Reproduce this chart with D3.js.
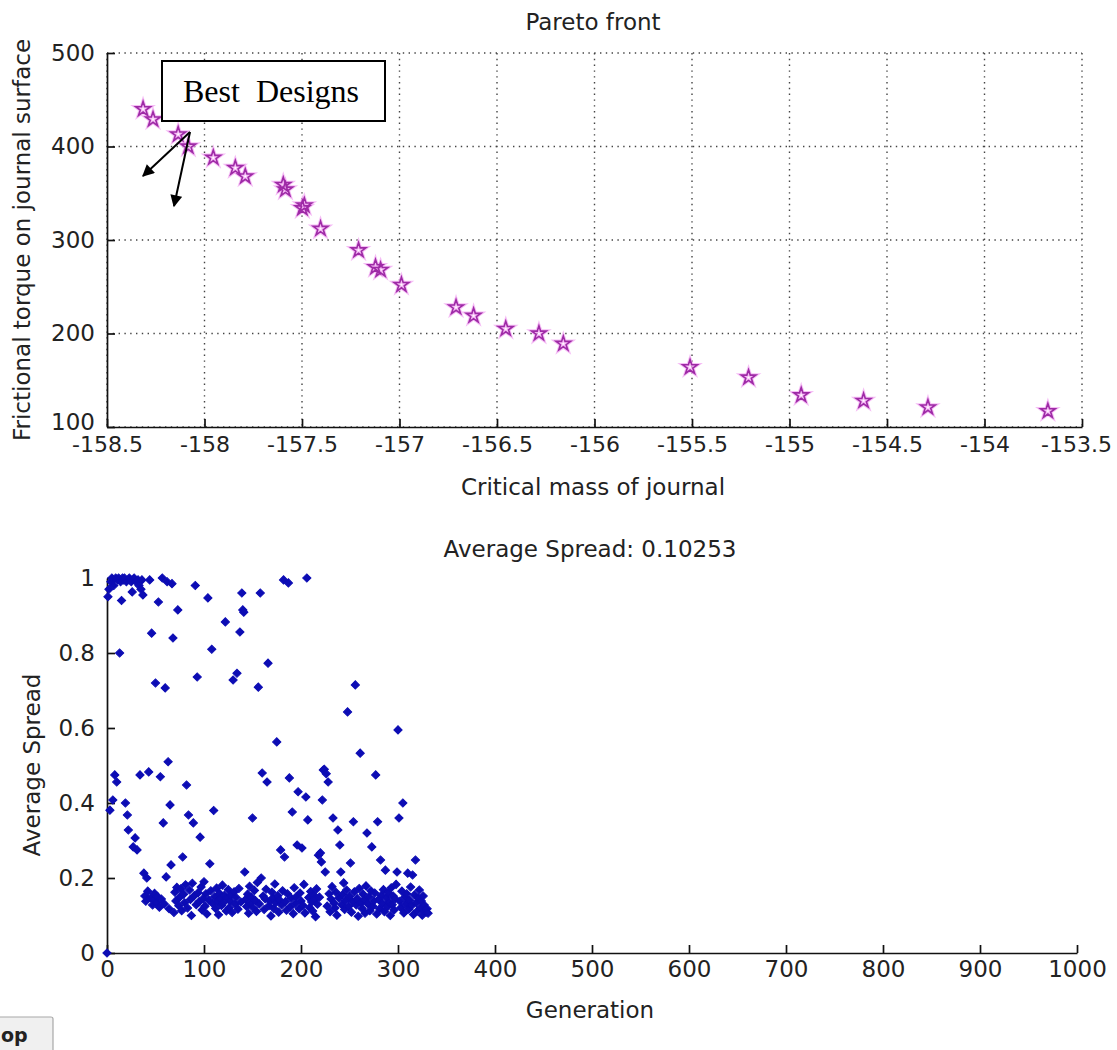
<!DOCTYPE html>
<html>
<head>
<meta charset="utf-8">
<script src="https://cdn.jsdelivr.net/npm/d3@7"></script>
<style>
  html, body { margin: 0; padding: 0; background: #fff; }
  svg { display: block; }
</style>
</head>
<body>
<svg id="chart" width="1117" height="1050"></svg>
<script>
// ---------- Data ----------
const paretoMass = [-158.315, -158.264, -158.135, -158.083, -157.955, -157.842, -157.791,
  -157.596, -157.585, -157.498, -157.488, -157.405, -157.21, -157.123, -157.097, -156.99,
  -156.71, -156.62, -156.455, -156.285, -156.16, -155.51, -155.21, -154.94, -154.62,
  -154.29, -153.675];
const paretoTorque = [440, 429, 413, 400, 388, 377, 368, 359, 354, 334, 337, 312, 289, 271,
  268, 252, 228, 219, 205, 200, 189, 164, 153, 134, 128, 121, 117];

const paretoXTicks = [-158.5, -158, -157.5, -157, -156.5, -156, -155.5, -155, -154.5, -154, -153.5];
const paretoYTicks = [100, 200, 300, 400, 500];

// average spread per generation (generation = index)
const spread = [
  0, 0.95, 0.97, 0.381, 0.99, 1.0, 0.408, 0.98, 0.475, 1.0,
  0.456, 0.995, 1.0, 0.80, 0.99, 0.94, 1.0, 0.995, 1.0, 0.40,
  0.99, 0.368, 0.328, 1.0, 0.995, 0.99, 0.963, 0.283, 1.0, 0.307,
  0.99, 0.275, 0.995, 0.98, 0.475, 0.97, 0.995, 0.955, 0.213, 0.152,
  0.138, 0.20, 0.165, 0.483, 0.995, 0.147, 0.853, 0.128, 0.142, 0.159,
  0.72, 0.135, 0.151, 0.936, 0.122, 0.47, 0.144, 1.0, 0.347, 0.131,
  0.707, 0.203, 0.99, 0.51, 0.118, 0.395, 0.235, 0.985, 0.84, 0.108,
  0.162, 0.139, 0.175, 0.915, 0.126, 0.149, 0.171, 0.113, 0.256, 0.157,
  0.134, 0.182, 0.448, 0.12, 0.368, 0.168, 0.143, 0.1, 0.186, 0.347,
  0.153, 0.98, 0.129, 0.736, 0.161, 0.137, 0.309, 0.176, 0.115, 0.145,
  0.19, 0.125, 0.158, 0.104, 0.947, 0.141, 0.238, 0.166, 0.81, 0.132,
  0.38, 0.15, 0.119, 0.173, 0.137, 0.102, 0.159, 0.144, 0.127, 0.181,
  0.134, 0.154, 0.883, 0.112, 0.146, 0.169, 0.121, 0.139, 0.155, 0.108,
  0.728, 0.163, 0.13, 0.148, 0.746, 0.117, 0.172, 0.856, 0.136, 0.96,
  0.915, 0.909, 0.216, 0.143, 0.124, 0.157, 0.106, 0.178, 0.133, 0.149,
  0.36, 0.12, 0.167, 0.14, 0.111, 0.188, 0.709, 0.131, 0.96, 0.2,
  0.48, 0.152, 0.116, 0.145, 0.17, 0.456, 0.773, 0.126, 0.138, 0.099,
  0.162, 0.147, 0.119, 0.184, 0.135, 0.563, 0.153, 0.109, 0.141, 0.275,
  0.128, 0.166, 0.995, 0.256, 0.137, 0.114, 0.158, 0.987, 0.467, 0.123,
  0.146, 0.376, 0.105, 0.174, 0.132, 0.15, 0.288, 0.43, 0.118, 0.16,
  0.139, 0.28, 0.127, 0.183, 0.107, 0.416, 1.0, 0.355, 0.148, 0.121,
  0.164, 0.136, 0.112, 0.155, 0.143, 0.097, 0.171, 0.13, 0.261, 0.149,
  0.267, 0.243, 0.408, 0.488, 0.49, 0.216, 0.478, 0.125, 0.456, 0.158,
  0.11, 0.144, 0.177, 0.36, 0.133, 0.12, 0.162, 0.101, 0.328, 0.147,
  0.288, 0.216, 0.129, 0.156, 0.187, 0.116, 0.14, 0.168, 0.643, 0.124,
  0.151, 0.24, 0.109, 0.137, 0.35, 0.163, 0.715, 0.128, 0.145, 0.098,
  0.172, 0.533, 0.134, 0.119, 0.157, 0.142, 0.106, 0.179, 0.32, 0.131,
  0.15, 0.113, 0.166, 0.283, 0.125, 0.139, 0.16, 0.475, 0.104, 0.35,
  0.143, 0.118, 0.248, 0.154, 0.132, 0.169, 0.11, 0.221, 0.147, 0.123,
  0.161, 0.136, 0.1, 0.174, 0.129, 0.152, 0.115, 0.145, 0.183, 0.216,
  0.595, 0.36, 0.138, 0.121, 0.165, 0.40, 0.107, 0.149, 0.13, 0.158,
  0.213, 0.117, 0.141, 0.176, 0.126, 0.208, 0.103, 0.155, 0.248, 0.134,
  0.112, 0.147, 0.168, 0.12, 0.139, 0.101, 0.152, 0.128, 0.115, 0.109,
  0.118, 0.106
];
const spreadXTicks = [0, 100, 200, 300, 400, 500, 600, 700, 800, 900, 1000];
const spreadYTicks = [0, 0.2, 0.4, 0.6, 0.8, 1];
const spreadYLabels = ["0", "0.2", "0.4", "0.6", "0.8", "1"];

// ---------- Drawing ----------
const svg = d3.select("#chart");
svg.append("rect").attr("width", 1117).attr("height", 1050).attr("fill", "#fff");

const FS = 23;
const SANS = "DejaVu Sans, sans-serif";
const TXT = "#222";

// ===== Top: Pareto front =====
const x1 = d3.scaleLinear().domain([-158.5, -153.5]).range([107, 1082]);
const y1 = d3.scaleLinear().domain([100, 500]).range([427, 53]);

const grid = svg.append("g");
grid.selectAll("line.vx").data(paretoXTicks).join("line")
  .attr("x1", d => x1(d)).attr("x2", d => x1(d))
  .attr("y1", y1(500)).attr("y2", y1(100))
  .attr("stroke", "#444").attr("stroke-width", 1.4)
  .attr("stroke-dasharray", "1.4,4.4");
grid.selectAll("line.hy").data(paretoYTicks).join("line")
  .attr("y1", d => y1(d)).attr("y2", d => y1(d))
  .attr("x1", x1(-158.5)).attr("x2", x1(-153.5))
  .attr("stroke", "#444").attr("stroke-width", 1.4)
  .attr("stroke-dasharray", "1.4,4.4");

const ax1 = svg.append("g").attr("transform", `translate(0,${y1(100)})`)
  .call(d3.axisBottom(x1).tickValues(paretoXTicks).tickSize(-8).tickSizeOuter(0)
    .tickPadding(14).tickFormat(d => String(d)));
const ay1 = svg.append("g").attr("transform", `translate(${x1(-158.5)},0)`)
  .call(d3.axisLeft(y1).tickValues(paretoYTicks).tickSize(-8).tickSizeOuter(0)
    .tickPadding(12).tickFormat(d => String(d)));

function styleAxis(g) {
  g.select(".domain").attr("stroke", "#111").attr("stroke-width", 1.7);
  g.selectAll(".tick line").attr("stroke", "#111").attr("stroke-width", 1.7);
  g.selectAll(".tick text").attr("font-size", FS).attr("fill", TXT)
    .attr("font-family", SANS);
}
[ax1, ay1].forEach(styleAxis);
ax1.selectAll(".tick text").attr("dy", "0.5em").attr("font-size", 22);
ax1.selectAll(".tick text").filter(d => d === -153.5).attr("dx", "-6");
ay1.selectAll(".tick text").filter(d => d === 100).attr("dy", "0.1em");

// stars
const star = d3.symbol().type(d3.symbolStar).size(66);
const stars = svg.append("g");
stars.selectAll("path.halo").data(paretoMass).join("path")
  .attr("transform", (d, i) => `translate(${x1(d)},${y1(paretoTorque[i])})`)
  .attr("d", star).attr("fill", "none").attr("stroke", "#f2a6f2")
  .attr("stroke-width", 3.6).attr("opacity", 0.75);
stars.selectAll("path.st").data(paretoMass).join("path")
  .attr("transform", (d, i) => `translate(${x1(d)},${y1(paretoTorque[i])})`)
  .attr("d", star).attr("fill", "none").attr("stroke", "#9e2aa6")
  .attr("stroke-width", 1.6);

function label(x, y, t, rot) {
  const el = svg.append("text").attr("text-anchor", "middle")
    .attr("font-size", FS).attr("font-family", SANS).attr("fill", TXT).text(t);
  if (rot) el.attr("transform", `translate(${x},${y}) rotate(-90)`);
  else el.attr("x", x).attr("y", y);
  return el;
}
label(593, 30, "Pareto front");
label(593, 495, "Critical mass of journal");
label(30, 240, "Frictional torque on journal surface", true);

// annotation box
svg.append("rect").attr("x", 162).attr("y", 61).attr("width", 223).attr("height", 60)
  .attr("fill", "#fff").attr("stroke", "#000").attr("stroke-width", 2);
svg.append("text").attr("x", 271).attr("y", 102).attr("text-anchor", "middle")
  .attr("font-family", "Liberation Serif, 'Times New Roman', serif")
  .attr("font-size", 32).attr("fill", "#000").attr("xml:space", "preserve")
  .style("white-space", "pre")
  .text("Best  Designs");

svg.append("defs").append("marker").attr("id", "ah")
  .attr("viewBox", "0 0 10 10").attr("refX", 9).attr("refY", 5)
  .attr("markerWidth", 7).attr("markerHeight", 6).attr("orient", "auto")
  .attr("markerUnits", "strokeWidth")
  .append("path").attr("d", "M0,0 L10,5 L0,10 Z").attr("fill", "#000");
[[143, 176], [174, 206]].forEach(([ex, ey]) => {
  svg.append("line").attr("x1", 190).attr("y1", 132).attr("x2", ex).attr("y2", ey)
    .attr("stroke", "#000").attr("stroke-width", 2).attr("marker-end", "url(#ah)");
});

// ===== Bottom: Average spread =====
const x2 = d3.scaleLinear().domain([0, 1000]).range([107, 1077]);
const y2 = d3.scaleLinear().domain([0, 1]).range([953, 578]);

const ax2 = svg.append("g").attr("transform", `translate(0,${y2(0)})`)
  .call(d3.axisBottom(x2).tickValues(spreadXTicks).tickSize(-8).tickSizeOuter(0)
    .tickPadding(12).tickFormat(d => String(d)));
const ay2 = svg.append("g").attr("transform", `translate(${x2(0)},0)`)
  .call(d3.axisLeft(y2).tickValues(spreadYTicks).tickSize(-8).tickSizeOuter(0)
    .tickPadding(12).tickFormat((d, i) => spreadYLabels[i]));
[ax2, ay2].forEach(styleAxis);
ax2.selectAll(".tick text").attr("dy", "0.5em");

const diamond = d3.symbol().type(d3.symbolSquare).size(34);
svg.append("g").selectAll("path").data(spread).join("path")
  .attr("transform", (d, i) => `translate(${x2(i)},${y2(d)}) rotate(45)`)
  .attr("d", diamond).attr("fill", "#0c0cb4").attr("stroke", "#0c0cb4")
  .attr("stroke-width", 1);

label(590, 557, "Average Spread: 0.10253");
label(590, 1018, "Generation");
label(40, 765, "Average Spread", true);

// partially visible button
svg.append("rect").attr("x", -8).attr("y", 1017).attr("width", 61).attr("height", 40)
  .attr("rx", 2).attr("fill", "#f0f0f0").attr("stroke", "#a8a8a8").attr("stroke-width", 1.2);
svg.append("text").attr("x", 1).attr("y", 1042).attr("font-size", 19)
  .attr("font-family", SANS).attr("font-weight", "bold")
  .attr("fill", "#222").text("op");
</script>
</body>
</html>
